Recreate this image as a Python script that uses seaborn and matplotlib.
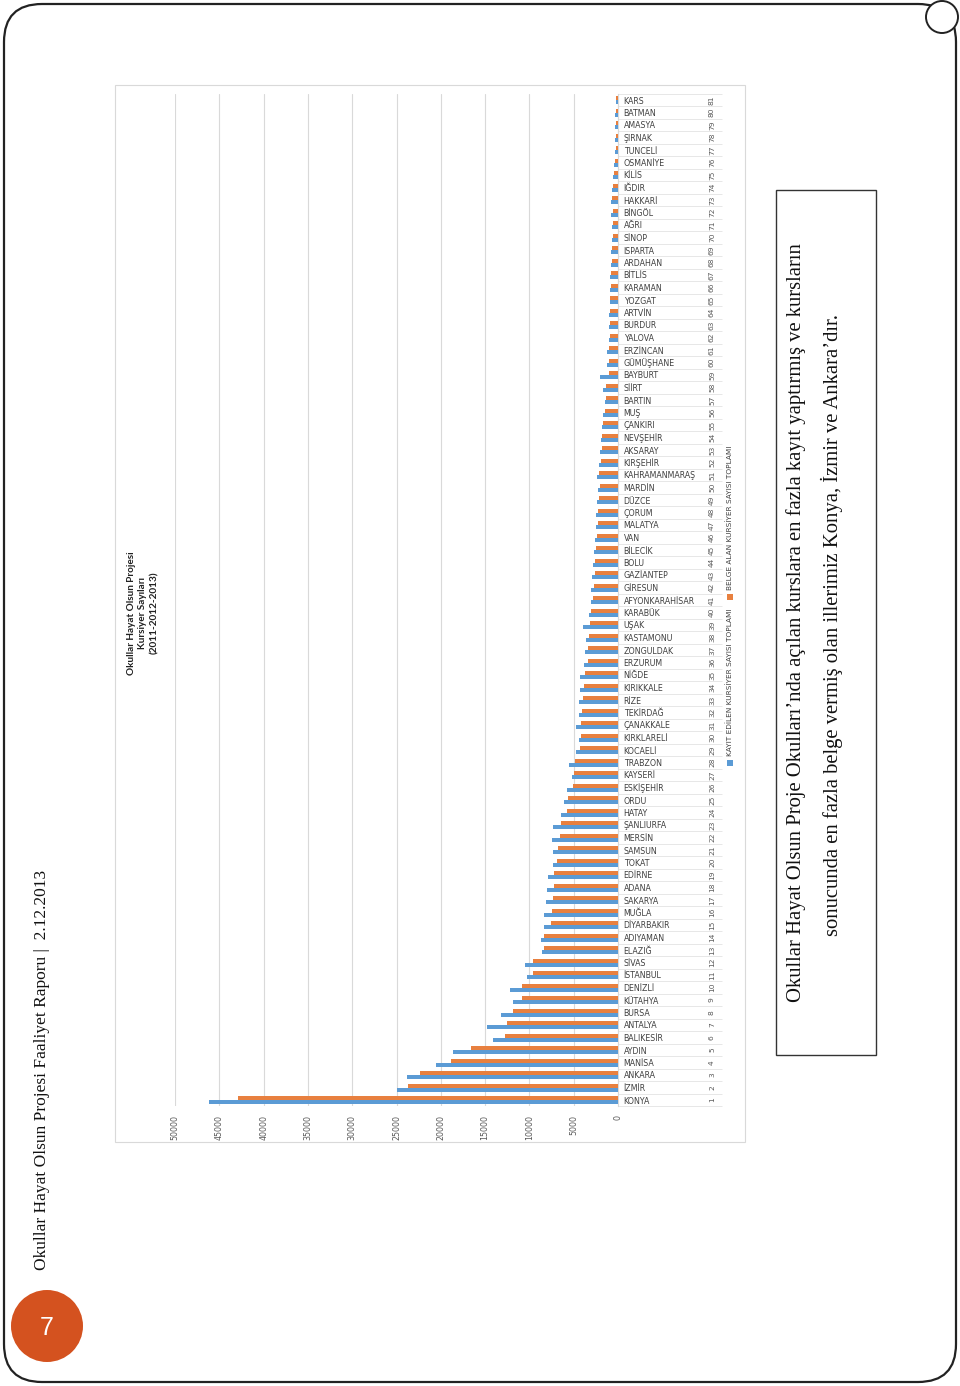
import matplotlib
matplotlib.use("Agg")
import matplotlib.pyplot as plt
import matplotlib.transforms as mtransforms
from matplotlib.patches import Rectangle, FancyBboxPatch, Circle
import seaborn as sns
import pandas as pd

provinces = ["KONYA", "İZMİR", "ANKARA", "MANİSA", "AYDIN", "BALIKESİR", "ANTALYA", "BURSA",
             "KÜTAHYA", "DENİZLİ", "İSTANBUL", "SİVAS", "ELAZIĞ", "ADIYAMAN", "DİYARBAKIR",
             "MUĞLA", "SAKARYA", "ADANA", "EDİRNE", "TOKAT", "SAMSUN", "MERSİN", "ŞANLIURFA",
             "HATAY", "ORDU", "ESKİŞEHİR", "KAYSERİ", "TRABZON", "KOCAELİ", "KIRKLARELİ",
             "ÇANAKKALE", "TEKİRDAĞ", "RİZE", "KIRIKKALE", "NİĞDE", "ERZURUM", "ZONGULDAK",
             "KASTAMONU", "UŞAK", "KARABÜK", "AFYONKARAHİSAR", "GİRESUN", "GAZİANTEP", "BOLU",
             "BİLECİK", "VAN", "MALATYA", "ÇORUM", "DÜZCE", "MARDİN", "KAHRAMANMARAŞ",
             "KIRŞEHİR", "AKSARAY", "NEVŞEHİR", "ÇANKIRI", "MUŞ", "BARTIN", "SİİRT", "BAYBURT",
             "GÜMÜŞHANE", "ERZİNCAN", "YALOVA", "BURDUR", "ARTVİN", "YOZGAT", "KARAMAN",
             "BİTLİS", "ARDAHAN", "ISPARTA", "SİNOP", "AĞRI", "BİNGÖL", "HAKKARİ", "IĞDIR",
             "KİLİS", "OSMANİYE", "TUNCELİ", "ŞIRNAK", "AMASYA", "BATMAN", "KARS"]

kayit = [46200, 24900, 23800, 20500, 18600, 14100, 14800, 13200, 11900, 12200,
         10300, 10500, 8600, 8700, 8400, 8300, 8100, 8000, 7900, 7300,
         7300, 7400, 7300, 6400, 6100, 5700, 5200, 5500, 4700, 4400,
         4700, 4400, 4400, 4300, 4300, 3800, 3700, 3600, 3900, 3300,
         3100, 3000, 2900, 2800, 2700, 2600, 2500, 2500, 2400, 2300,
         2400, 2100, 2000, 1900, 1800, 1700, 1500, 1700, 2000, 1200,
         1200, 1000, 1050, 1050, 950, 900, 850, 750, 750, 650,
         650, 750, 800, 650, 550, 450, 350, 350, 350, 350, 280]

belge = [42900, 23700, 22300, 18900, 16550, 12800, 12500, 11900, 10850, 10850,
         9650, 9650, 8350, 8350, 7600, 7400, 7350, 7250, 7250, 6900,
         6800, 6600, 6450, 5800, 5650, 5100, 5000, 4800, 4300, 4200,
         4200, 4100, 4000, 3850, 3750, 3400, 3400, 3300, 3200, 3050,
         2850, 2750, 2650, 2600, 2500, 2400, 2300, 2300, 2200, 2050,
         2100, 1950, 1850, 1750, 1700, 1450, 1400, 1300, 1050, 1050,
         1000, 900, 950, 950, 850, 750, 750, 650, 650, 550,
         550, 600, 650, 550, 450, 350, 280, 280, 280, 280, 220]

series_names = ["KAYIT EDİLEN KURSİYER SAYISI TOPLAMI", "BELGE ALAN KURSİYER SAYISI TOPLAMI"]
value_ticks = [0, 5000, 10000, 15000, 20000, 25000, 30000, 35000, 40000, 45000, 50000]

header = "Okullar Hayat Olsun Projesi Faaliyet Raporu |  2.12.2013"
chart_title = "Okullar Hayat Olsun Projesi\nKursiyer Sayıları\n(2011-2012-2013)"
note_line1 = "Okullar Hayat Olsun Proje Okulları’nda açılan kurslara en fazla kayıt yaptırmış ve kursların"
note_line2 = "sonucunda en fazla belge vermiş olan illerimiz Konya, İzmir ve Ankara’dır."
page_no = "7"

BLUE = "#5B9BD5"
ORANGE = "#E8803F"

df = pd.DataFrame({
    "il": provinces * 2,
    "deger": kayit + belge,
    "seri": [series_names[0]] * len(provinces) + [series_names[1]] * len(provinces),
})

sns.set_style("white")
plt.rcParams["font.family"] = ["DejaVu Sans"]

W, H = 960, 1386
fig = plt.figure(figsize=(W / 100, H / 100), dpi=100)
fig.patch.set_facecolor("white")

# background / page layer in pixel coordinates
bg = fig.add_axes([0, 0, 1, 1], zorder=0)
bg.set_xlim(0, W)
bg.set_ylim(H, 0)
bg.axis("off")

bg.add_patch(FancyBboxPatch((4, 4), W - 8, H - 8, boxstyle="round,pad=0,rounding_size=38",
                            facecolor="white", edgecolor="#222222", linewidth=1.6))
bg.add_patch(Circle((942, 17), 16, facecolor="white", edgecolor="#222222", linewidth=1.4))
bg.add_patch(Circle((47, 1326), 36, facecolor="#D4521F", edgecolor="none"))
bg.text(47, 1328, page_no, color="white", fontsize=18, ha="center", va="center",
        family=["Liberation Sans", "DejaVu Sans"])
bg.text(42, 1270, header, rotation=90, ha="center", va="bottom", fontsize=12.5,
        family=["Liberation Serif", "DejaVu Serif"], color="#111111")

# chart outer frame
bg.add_patch(Rectangle((115, 85), 630, 1057, facecolor="white", edgecolor="#D9D9D9", linewidth=0.8))
bg.text(143, 613, chart_title, rotation=90, ha="center", va="center", fontsize=7.2,
        fontweight="bold", linespacing=1.3, family=["Lato", "DejaVu Sans"], color="#222222")

# right note box
bg.add_patch(Rectangle((776, 190), 100, 865, facecolor="white", edgecolor="#333333", linewidth=1.0))
bg.text(796, 623, note_line1, rotation=90, ha="center", va="center", fontsize=14.9,
        family=["Liberation Serif", "DejaVu Serif"], color="#111111")
bg.text(832, 625, note_line2, rotation=90, ha="center", va="center", fontsize=14.9,
        family=["Liberation Serif", "DejaVu Serif"], color="#111111")

# legend (rotated)
bg.add_patch(Rectangle((727, 760), 6, 6, facecolor=BLUE, edgecolor="none"))
bg.text(730, 756, series_names[0], rotation=90, ha="center", va="bottom", fontsize=5.3, color="#404040")
bg.add_patch(Rectangle((727, 594), 6, 6, facecolor=ORANGE, edgecolor="none"))
bg.text(730, 590, series_names[1], rotation=90, ha="center", va="bottom", fontsize=5.3, color="#404040")

# main chart axes
x0, x1 = 175, 618
y_top, y_bot = 93.75, 1106.25
ax = fig.add_axes([x0 / W, 1 - y_bot / H, (x1 - x0) / W, (y_bot - y_top) / H], zorder=2)
ax.set_facecolor("none")

sns.barplot(data=df, y="il", x="deger", hue="seri", order=provinces, hue_order=series_names,
            palette=[BLUE, ORANGE], orient="h", width=0.64, saturation=1, linewidth=0,
            legend=False, ax=ax, zorder=3)

ax.set_ylim(-0.5, len(provinces) - 0.5)
ax.set_xlim(50000, 0)
ax.set_xticks(value_ticks)
ax.set_xticklabels([str(v) for v in value_ticks])
ax.tick_params(axis="x", labelrotation=90, labelsize=5.7, labelcolor="#595959", length=0, pad=6)
ax.xaxis.grid(True, color="#D9D9D9", linewidth=0.8)
ax.set_axisbelow(True)
ax.set_xlabel("")
ax.set_ylabel("")

ax.yaxis.tick_right()
ax.set_yticks(range(len(provinces)))
ax.set_yticklabels(provinces)
ax.tick_params(axis="y", labelsize=5.7, labelcolor="#404040", length=0, pad=4)
for s in ["top", "left", "bottom"]:
    ax.spines[s].set_visible(False)
ax.spines["right"].set_color("#D9D9D9")
ax.spines["right"].set_linewidth(0.8)

trans = mtransforms.blended_transform_factory(ax.transAxes, ax.transData)
num_x = (712 - x0) / (x1 - x0)
sep_end = (722 - x0) / (x1 - x0)
for i in range(len(provinces)):
    ax.text(num_x, i, str(i + 1), transform=trans, rotation=90, ha="center", va="center",
            fontsize=5.4, color="#595959", clip_on=False)
ax.hlines([i - 0.5 for i in range(len(provinces) + 1)], 1.0, sep_end, transform=trans,
          colors="#E3E3E3", linewidth=0.6, clip_on=False)

fig.savefig("out.png", dpi=100, facecolor="white")
